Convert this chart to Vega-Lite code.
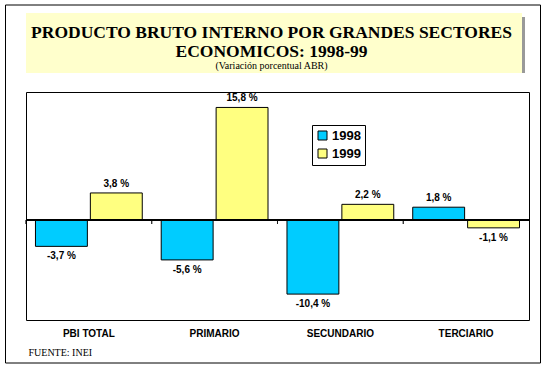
{
  "$schema": "https://vega.github.io/schema/vega-lite/v6.json",
  "padding": {"left": 4, "top": 4, "right": 3, "bottom": 3},
  "background": "white",
  "config": {"view": {"stroke": null}},
  "bounds": "flush",
  "spacing": 19,
  "resolve": {"legend": {"color": "independent"}},
  "vconcat": [
    {
      "width": 503,
      "height": 60,
      "data": {"values": [{}]},
      "title": {
        "text": ["PRODUCTO BRUTO INTERNO POR GRANDES SECTORES", "ECONOMICOS: 1998-99"],
        "subtitle": "(Variación porcentual ABR)",
        "anchor": "middle",
        "frame": "group",
        "offset": -58,
        "dx": -6,
        "font": "Liberation Serif",
        "fontSize": 17.5,
        "fontWeight": "bold",
        "lineHeight": 19,
        "color": "black",
        "subtitleFont": "Liberation Serif",
        "subtitleFontSize": 10,
        "subtitleColor": "black",
        "subtitlePadding": 1
      },
      "layer": [
        {"mark": {"type": "rect", "fill": "#999999", "xOffset": -4, "x2Offset": 2, "yOffset": 4, "y2Offset": 4}, "encoding": {}},
        {"mark": {"type": "rect", "fill": "#FFFFCC", "xOffset": -7, "x2Offset": -2.5}, "encoding": {}}
      ]
    },
    {
      "width": 503,
      "height": 228,
      "view": {"stroke": "black", "strokeWidth": 1},
      "data": {
        "values": [
          {"sector": "PBI TOTAL", "year": "1998", "value": -3.7, "label": "-3,7 %"},
          {"sector": "PBI TOTAL", "year": "1999", "value": 3.8, "label": "3,8 %"},
          {"sector": "PRIMARIO", "year": "1998", "value": -5.6, "label": "-5,6 %"},
          {"sector": "PRIMARIO", "year": "1999", "value": 15.8, "label": "15,8 %"},
          {"sector": "SECUNDARIO", "year": "1998", "value": -10.4, "label": "-10,4 %"},
          {"sector": "SECUNDARIO", "year": "1999", "value": 2.2, "label": "2,2 %"},
          {"sector": "TERCIARIO", "year": "1998", "value": 1.8, "label": "1,8 %"},
          {"sector": "TERCIARIO", "year": "1999", "value": -1.1, "label": "-1,1 %"}
        ]
      },
      "resolve": {"axis": {"x": "independent", "y": "independent"}},
      "layer": [
        {
          "mark": {"type": "bar", "stroke": "black", "strokeWidth": 1},
          "encoding": {
            "x": {
              "field": "sector", "type": "nominal",
              "sort": ["PBI TOTAL", "PRIMARIO", "SECUNDARIO", "TERCIARIO"],
              "scale": {"range": [-21, 514], "paddingInner": 0, "paddingOuter": 0.1272, "align": 0.656},
              "axis": {
                "orient": "bottom",
                "title": "FUENTE: INEI",
                "labelFont": "Liberation Sans", "labelFontSize": 10, "labelFontWeight": "bold",
                "labelColor": "black", "labelPadding": 8, "labelAngle": 0,
                "domain": false, "ticks": false,
                "titleFont": "Liberation Serif", "titleFontSize": 10, "titleFontWeight": "normal",
                "titleColor": "black", "titleAlign": "left", "titleBaseline": "alphabetic",
                "titleX": 2, "titleY": 35
              }
            },
            "xOffset": {"field": "year", "scale": {"paddingInner": 0.0545, "paddingOuter": 0.1727}},
            "y": {
              "field": "value", "type": "quantitative",
              "scale": {"domain": [-20, 30.25], "range": [270.5, -87.5], "nice": false, "zero": false},
              "axis": {"orient": "left", "offset": 21, "labels": false, "ticks": false, "domain": true, "domainColor": "black", "grid": false, "title": null}
            },
            "color": {
              "field": "year", "type": "nominal",
              "scale": {"domain": ["1998", "1999"], "range": ["#00CCFF", "#FFFF80"]},
              "legend": {
                "title": null, "orient": "none", "legendX": 286, "legendY": 33,
                "strokeColor": "black", "fillColor": "white", "padding": 4,
                "symbolType": "square", "symbolSize": 81, "symbolStrokeColor": "black",
                "symbolStrokeWidth": 1, "symbolOpacity": 1,
                "labelFont": "Liberation Sans", "labelFontSize": 13, "labelFontWeight": "bold",
                "labelColor": "black", "labelOffset": 3, "rowPadding": 4
              }
            }
          }
        },
        {
          "mark": {"type": "tick", "orient": "vertical", "size": 4, "yOffset": 2, "color": "black", "thickness": 1},
          "encoding": {
            "x": {
              "field": "sector", "type": "nominal", "bandPosition": 0,
              "sort": ["PBI TOTAL", "PRIMARIO", "SECUNDARIO", "TERCIARIO"],
              "axis": {"orient": "top", "offset": 87.5, "labels": false, "ticks": false, "domain": true, "domainColor": "black", "title": null}
            },
            "y": {
              "datum": 0, "type": "quantitative",
              "axis": {"orient": "right", "offset": 11, "labels": false, "ticks": false, "domain": true, "domainColor": "black", "grid": false, "title": null}
            }
          }
        },
        {
          "mark": {"type": "rule", "color": "black", "strokeWidth": 1},
          "encoding": {"y": {"datum": 0, "type": "quantitative", "axis": null}}
        },
        {
          "transform": [{"filter": "datum.value >= 0"}],
          "mark": {"type": "text", "baseline": "bottom", "dy": -4, "font": "Liberation Sans", "fontSize": 10, "fontWeight": "bold", "color": "black"},
          "encoding": {
            "x": {
              "field": "sector", "type": "nominal",
              "sort": ["PBI TOTAL", "PRIMARIO", "SECUNDARIO", "TERCIARIO"],
              "axis": {"orient": "bottom", "offset": 42.5, "labels": false, "ticks": false, "domain": true, "domainColor": "black", "title": null}
            },
            "xOffset": {"field": "year"},
            "y": {"field": "value", "type": "quantitative", "axis": null},
            "text": {"field": "label"}
          }
        },
        {
          "transform": [{"filter": "datum.value < 0"}],
          "mark": {"type": "text", "baseline": "top", "dy": 5, "font": "Liberation Sans", "fontSize": 10, "fontWeight": "bold", "color": "black"},
          "encoding": {
            "x": {"field": "sector", "type": "nominal", "sort": ["PBI TOTAL", "PRIMARIO", "SECUNDARIO", "TERCIARIO"], "axis": null},
            "xOffset": {"field": "year"},
            "y": {"field": "value", "type": "quantitative", "axis": null},
            "text": {"field": "label"}
          }
        }
      ]
    }
  ]
}
